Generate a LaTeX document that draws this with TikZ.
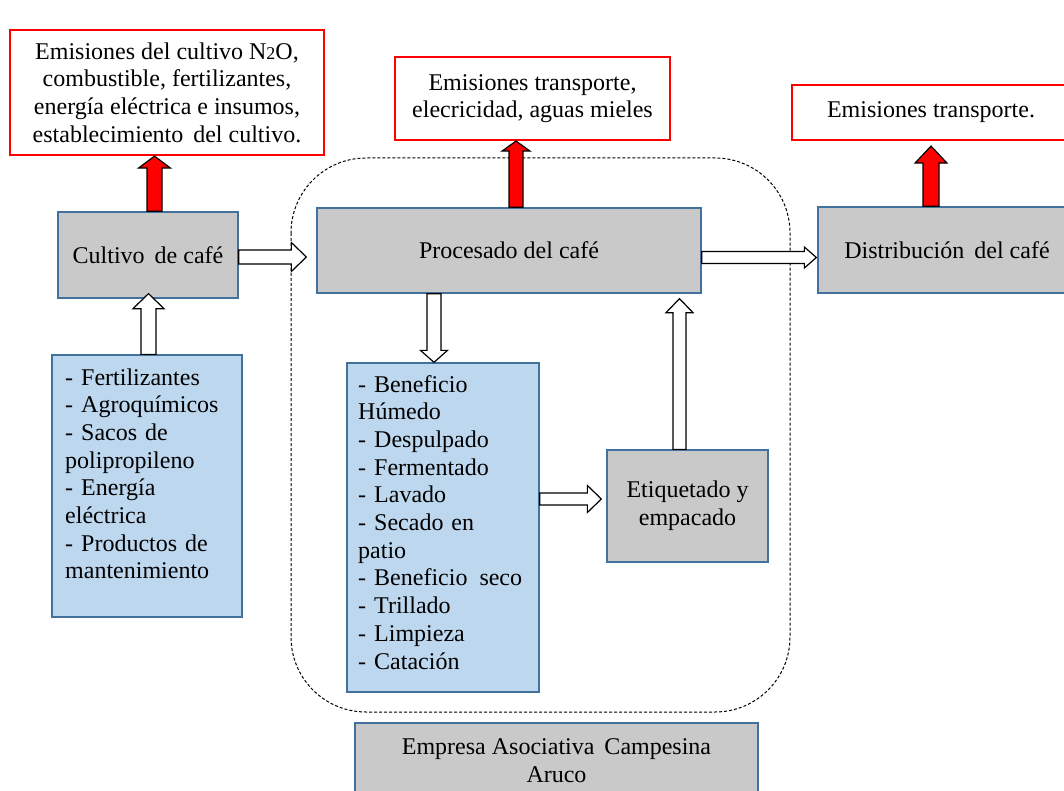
\documentclass[tikz,border=0pt]{standalone}
\usepackage{fontspec}
\setmainfont{Liberation Serif}
\usetikzlibrary{calc}
\definecolor{gris}{HTML}{C9C9C9}
\definecolor{bordeazul}{HTML}{41719C}
\definecolor{celeste}{HTML}{BDD7EE}
\newcommand{\flecha}[6][blanca]{%
  \coordinate (fb) at ($#3!#6pt!#2$);
  \draw[#1] ($#2!#4pt!90:#3$) -- ($(fb)!#4pt!90:#3$) -- ($(fb)!#5pt!90:#3$) -- #3
    -- ($(fb)!#5pt!-90:#3$) -- ($(fb)!#4pt!-90:#3$) -- ($#2!#4pt!-90:#3$) -- cycle;}
\begin{document}
\begin{tikzpicture}[x=1pt,y=-1pt,
  font=\fontsize{24}{27.7}\selectfont,
  caja/.style={draw=bordeazul,fill=gris,line width=1.3pt,align=center,inner sep=0pt},
  emision/.style={draw=red,fill=white,line width=2.2pt,align=center,inner sep=0pt},
  listabox/.style={draw=bordeazul,fill=celeste,line width=1.3pt,inner sep=0pt},
  lista/.style={anchor=base west,align=left,text width=180pt,inner sep=0pt},
  blanca/.style={draw=black,fill=white,line width=1.2pt,line join=miter},
  roja/.style={blanca,fill=red}]
\useasboundingbox (0,0) rectangle (1064,791);
\draw[line width=1pt,dash pattern=on 3pt off 2pt,rounded corners=75pt] (291,158) rectangle (790,712);
\node[emision,minimum width=314pt,minimum height=125pt] (em1) at (167,92.5)
  {Emisiones del cultivo N{\fontsize{18}{20}\selectfont 2}O,\\combustible, fertilizantes,\\energía eléctrica e insumos,\\establecimiento\hspace{4pt} del cultivo.};
\node[emision,minimum width=275pt,minimum height=83pt] (em2) at (532.5,98.5)
  {Emisiones transporte,\\elecricidad, aguas mieles};
\node[emision,minimum width=278pt,minimum height=55pt] (em3) at (931,112.5) {Emisiones transporte.};
\node[caja,minimum width=180pt,minimum height=86pt] (cult) at (148,255) {Cultivo\hspace{4pt} de café};
\node[caja,minimum width=384pt,minimum height=85pt] (proc) at (509,250.5) {Procesado del café};
\node[caja,minimum width=258pt,minimum height=86pt] (dist) at (947,250) {Distribución\hspace{4pt} del café};
\node[listabox,minimum width=190pt,minimum height=262pt] (ins) at (147,486) {};
\node[lista] (instxt) at (65,385)
  {- Fertilizantes\\- Agroquímicos\\- Sacos de\\polipropileno\\- Energía\\eléctrica\\- Productos de\\mantenimiento};
\node[listabox,minimum width=192pt,minimum height=329pt] (ben) at (443,527.5) {};
\node[lista] (bentxt) at (358,392)
  {- Beneficio\\Húmedo\\- Despulpado\\- Fermentado\\- Lavado\\- Secado en\\patio\\- Beneficio\hspace{4pt} seco\\- Trillado\\- Limpieza\\- Catación};
\node[caja,minimum width=161pt,minimum height=112pt] (etiq) at (687.5,506) {Etiquetado y\\empacado};
\node[caja,minimum width=403pt,minimum height=76pt] (aruco) at (556.5,761) {Empresa Asociativa\hspace{4pt} Campesina\\Aruco};
\flecha{([yshift=-2pt]cult.east)}{([xshift=-10pt,yshift=-6.5pt]proc.west)}{7}{14.5}{15}
\flecha{([yshift=-7pt]proc.east)}{([xshift=-1pt,yshift=-7.5pt]dist.west)}{6}{10.5}{12}
\flecha{([xshift=1.5pt]ins.north)}{([xshift=0.5pt,yshift=5pt]cult.south)}{7.5}{15.5}{15}
\flecha{([xshift=-75pt]proc.south)}{([xshift=-9pt]ben.north)}{7}{13.5}{12}
\flecha{([yshift=28.5pt]ben.east)}{([xshift=-5pt,yshift=7pt]etiq.west)}{6}{13.5}{14}
\flecha{([xshift=-8pt]etiq.north)}{([xshift=170.5pt,yshift=-5pt]proc.south)}{6.5}{13.5}{14}
\flecha[roja]{([xshift=6.5pt]cult.north)}{([xshift=-12.5pt]em1.south)}{7.5}{16}{12}
\flecha[roja]{([xshift=7pt]proc.north)}{([xshift=-16.5pt]em2.south)}{7}{14}{10}
\flecha[roja]{([xshift=-16pt]dist.north)}{([yshift=-5pt]em3.south)}{8}{16}{17}
\end{tikzpicture}
\end{document}
